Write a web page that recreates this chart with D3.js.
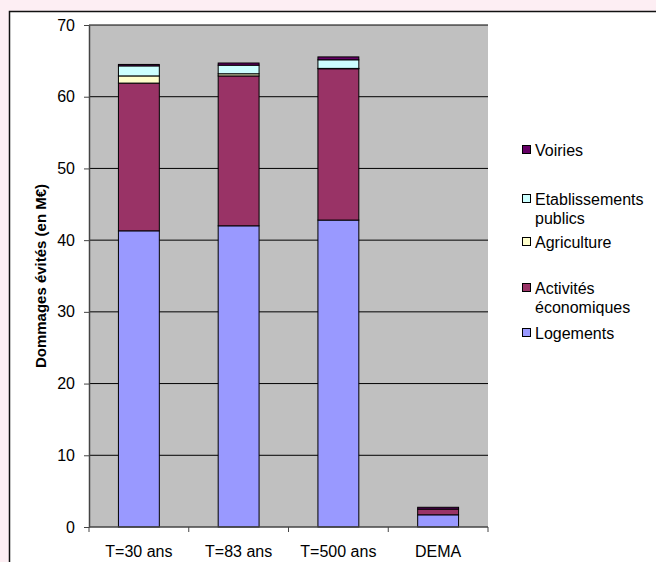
<!DOCTYPE html>
<html><head><meta charset="utf-8">
<script src="https://cdn.jsdelivr.net/npm/d3@7"></script>
<style>body{margin:0;background:#fdeef3;} svg{display:block;font-family:"Liberation Sans",Arial,sans-serif;}</style>
</head><body><svg id="c" width="656" height="562"></svg>
<script>
const categories = ["T=30 ans", "T=83 ans", "T=500 ans", "DEMA"];
const seriesNames = ["Logements", "Activités économiques", "Agriculture", "Etablissements publics", "Voiries"];
const logements = [41.3, 42.0, 42.8, 1.7];
const activites = [20.6, 20.9, 21.1, 0.8];
const agriculture = [1.0, 0.3, 0.05, 0];
const etablissements = [1.4, 1.2, 1.2, 0];
const voiries = [0.2, 0.3, 0.4, 0.25];
const yTicks = [0, 10, 20, 30, 40, 50, 60, 70];
const colors = ["#9999ff", "#993366", "#ffffcc", "#ccffff", "#660066"];
const legendLines = [["Voiries"], ["Etablissements", "publics"], ["Agriculture"], ["Activités", "économiques"], ["Logements"]];
const legendIdx = [4, 3, 2, 1, 0];
const FS = 16;

const svg = d3.select("#c");
svg.append("rect").attr("x", 0).attr("y", 0).attr("width", 656).attr("height", 562).attr("fill", "#fdeef3");
svg.append("rect").attr("x", 9.5).attr("y", 11.5).attr("width", 660).attr("height", 560)
  .attr("fill", "#fff").attr("stroke", "#111").attr("stroke-width", 1.5);

const L = 89, R = 488, T = 25, B = 527;
const x = d3.scaleBand().domain(categories).range([L, R]).paddingInner(0.59).paddingOuter(0.295);
const y = d3.scaleLinear().domain([0, 70]).range([B, T]);

svg.append("rect").attr("x", L).attr("y", T).attr("width", R - L).attr("height", B - T).attr("fill", "#c0c0c0");
svg.append("g").selectAll("line").data(yTicks.filter(d => d > 0)).join("line")
  .attr("x1", L).attr("x2", R).attr("y1", d => y(d)).attr("y2", d => y(d))
  .attr("stroke", "#000").attr("stroke-width", 1);

const data = categories.map((c, i) => ({cat: c, s0: logements[i], s1: activites[i], s2: agriculture[i], s3: etablissements[i], s4: voiries[i]}));
const stack = d3.stack().keys(["s0", "s1", "s2", "s3", "s4"])(data);
const g = svg.append("g");
stack.forEach((layer, k) => {
  g.selectAll(null).data(layer).join("rect")
    .attr("x", d => x(d.data.cat)).attr("width", x.bandwidth())
    .attr("y", d => y(d[1])).attr("height", d => Math.max(0, y(d[0]) - y(d[1])))
    .attr("fill", colors[k]).attr("stroke", "#000").attr("stroke-width", 1)
    .attr("display", d => (d[1] - d[0]) > 0 ? null : "none");
});

// axes
const yAxis = svg.append("g").attr("transform", `translate(${L},0)`)
  .call(d3.axisLeft(y).tickValues(yTicks).tickSize(5).tickSizeOuter(0).tickPadding(9));
yAxis.select(".domain").attr("stroke", "#444").attr("stroke-width", 1.5);
yAxis.selectAll(".tick line").attr("stroke", "#444");
yAxis.selectAll("text").attr("font-size", FS).attr("fill", "#000").attr("font-family", "Liberation Sans, Arial, sans-serif");

const xb = d3.scaleLinear().domain([0, 4]).range([L, R]);
const xAxisG = svg.append("g").attr("transform", `translate(0,${B})`);
xAxisG.append("line").attr("x1", L).attr("x2", R).attr("stroke", "#444").attr("stroke-width", 1.5);
xAxisG.selectAll(".t").data([0, 1, 2, 3, 4]).join("line").attr("class", "t")
  .attr("x1", d => xb(d)).attr("x2", d => xb(d)).attr("y1", 0).attr("y2", 5).attr("stroke", "#444");
xAxisG.selectAll("text").data(categories).join("text")
  .attr("x", d => x(d) + x.bandwidth() / 2).attr("y", 30).attr("text-anchor", "middle")
  .attr("font-size", FS).text(d => d);

svg.append("text").attr("transform", "translate(46,276) rotate(-90)")
  .attr("text-anchor", "middle").attr("font-size", 15).attr("font-weight", "bold")
  .text("Dommages évités (en M€)");

// legend
const legY = [150, 199, 242, 288, 333];
const lg = svg.append("g");
legendIdx.forEach((si, j) => {
  const yy = legY[j];
  lg.append("rect").attr("x", 522.5).attr("y", yy - 4.5).attr("width", 8).attr("height", 8)
    .attr("fill", colors[si]).attr("stroke", "#000").attr("stroke-width", 1);
  legendLines[j].forEach((t, li) => {
    lg.append("text").attr("x", 535).attr("y", yy + 5.5 + li * 19).attr("font-size", FS).text(t);
  });
});
</script></body></html>
